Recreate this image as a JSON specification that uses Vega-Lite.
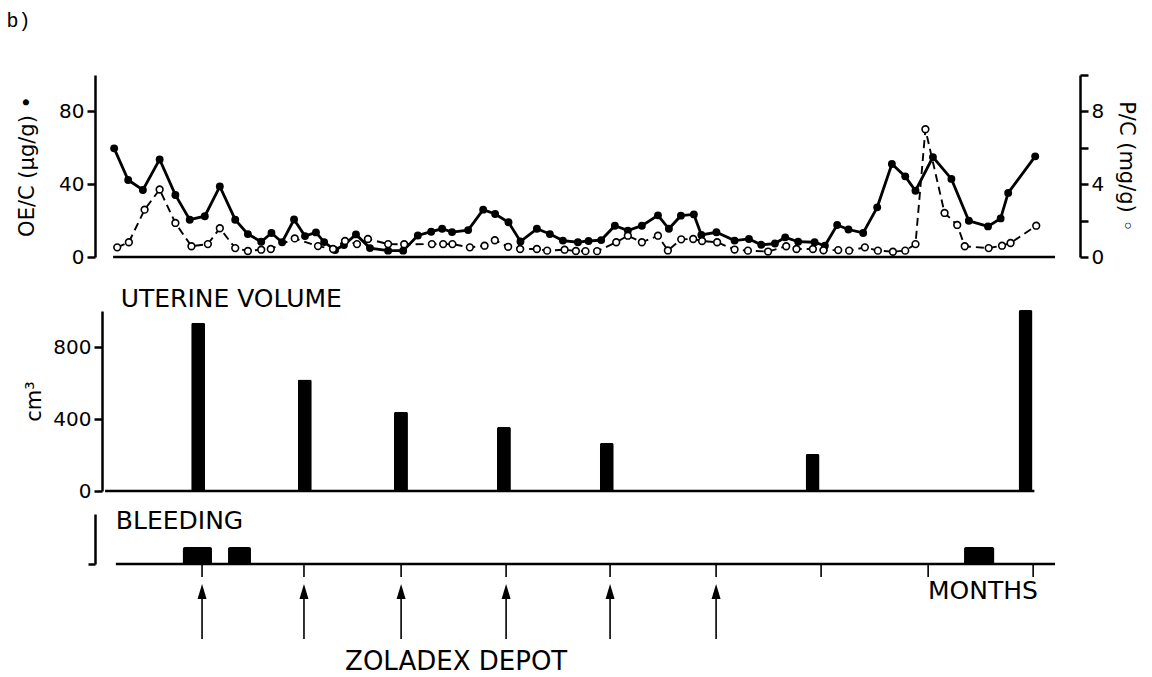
{
  "$schema": "https://vega.github.io/schema/vega-lite/v6.json",
  "background": "white",
  "padding": {"left": 6, "top": 10, "right": 5, "bottom": 2},
  "title": {"text": "b)", "anchor": "start", "frame": "bounds", "font": "Liberation Mono", "fontSize": 20, "fontWeight": "normal", "color": "black", "offset": 43, "dx": -10},
  "datasets": {
    "oe": [
      {"day": 5.6, "oe": 59.7}, {"day": 9.7, "oe": 42.3}, {"day": 14.0, "oe": 36.8}, {"day": 18.9, "oe": 53.6},
      {"day": 23.5, "oe": 34.1}, {"day": 27.7, "oe": 20.5}, {"day": 32.1, "oe": 22.4}, {"day": 36.5, "oe": 38.8},
      {"day": 41.0, "oe": 20.5}, {"day": 44.7, "oe": 12.6}, {"day": 48.6, "oe": 8.4}, {"day": 51.6, "oe": 13.2},
      {"day": 54.7, "oe": 8.1}, {"day": 58.2, "oe": 20.6}, {"day": 61.4, "oe": 11.5}, {"day": 64.6, "oe": 13.5},
      {"day": 67.0, "oe": 8.2}, {"day": 70.2, "oe": 3.8}, {"day": 72.8, "oe": 6.6}, {"day": 76.3, "oe": 12.4},
      {"day": 80.4, "oe": 4.9}, {"day": 85.7, "oe": 3.5}, {"day": 90.1, "oe": 3.5}, {"day": 94.4, "oe": 11.8},
      {"day": 98.3, "oe": 13.9}, {"day": 101.5, "oe": 15.5}, {"day": 104.4, "oe": 13.7}, {"day": 109.1, "oe": 14.8},
      {"day": 113.5, "oe": 26.0}, {"day": 117.0, "oe": 23.6}, {"day": 120.9, "oe": 19.1}, {"day": 124.4, "oe": 8.5},
      {"day": 129.2, "oe": 15.5}, {"day": 133.0, "oe": 12.6}, {"day": 136.8, "oe": 9.0}, {"day": 141.2, "oe": 8.1},
      {"day": 144.3, "oe": 8.8}, {"day": 148.0, "oe": 9.3}, {"day": 152.0, "oe": 17.2}, {"day": 155.8, "oe": 14.5},
      {"day": 159.9, "oe": 17.2}, {"day": 164.6, "oe": 22.9}, {"day": 167.8, "oe": 15.5}, {"day": 171.3, "oe": 22.7},
      {"day": 175.1, "oe": 23.4}, {"day": 177.3, "oe": 12.1}, {"day": 181.7, "oe": 13.6}, {"day": 187.0, "oe": 9.0},
      {"day": 191.2, "oe": 9.9}, {"day": 194.8, "oe": 6.7}, {"day": 198.8, "oe": 7.4}, {"day": 201.8, "oe": 10.8},
      {"day": 205.6, "oe": 8.4}, {"day": 210.4, "oe": 8.1}, {"day": 213.4, "oe": 6.2}, {"day": 217.0, "oe": 17.6},
      {"day": 220.3, "oe": 15.1}, {"day": 224.6, "oe": 13.2}, {"day": 228.7, "oe": 27.3}, {"day": 233.0, "oe": 51.1},
      {"day": 236.9, "oe": 44.3}, {"day": 239.9, "oe": 36.4}, {"day": 245.0, "oe": 54.9}, {"day": 250.4, "oe": 42.9},
      {"day": 255.5, "oe": 19.9}, {"day": 261.1, "oe": 16.8}, {"day": 264.8, "oe": 21.2}, {"day": 267.0, "oe": 35.2},
      {"day": 274.9, "oe": 55.3}
    ],
    "pc": [
      {"day": 6.5, "pc": 0.53}, {"day": 9.9, "pc": 0.81}, {"day": 14.5, "pc": 2.6}, {"day": 18.9, "pc": 3.71},
      {"day": 23.5, "pc": 1.87}, {"day": 28.2, "pc": 0.59}, {"day": 33.0, "pc": 0.71}, {"day": 36.5, "pc": 1.58},
      {"day": 41.0, "pc": 0.49}, {"day": 44.7, "pc": 0.33}, {"day": 48.6, "pc": 0.4}, {"day": 51.4, "pc": 0.44},
      {"day": 58.4, "pc": 1.02}, {"day": 65.2, "pc": 0.6}, {"day": 69.6, "pc": 0.44}, {"day": 73.1, "pc": 0.88},
      {"day": 76.6, "pc": 0.71}, {"day": 79.8, "pc": 0.99}, {"day": 85.7, "pc": 0.71}, {"day": 90.4, "pc": 0.7},
      {"day": 98.5, "pc": 0.71}, {"day": 101.8, "pc": 0.71}, {"day": 104.5, "pc": 0.71}, {"day": 109.6, "pc": 0.53},
      {"day": 113.9, "pc": 0.62}, {"day": 116.9, "pc": 0.92}, {"day": 120.8, "pc": 0.56}, {"day": 124.3, "pc": 0.44},
      {"day": 129.2, "pc": 0.44}, {"day": 132.2, "pc": 0.35}, {"day": 137.3, "pc": 0.4}, {"day": 140.6, "pc": 0.33},
      {"day": 143.4, "pc": 0.32}, {"day": 146.8, "pc": 0.32}, {"day": 152.4, "pc": 0.81}, {"day": 155.8, "pc": 1.17},
      {"day": 159.9, "pc": 0.81}, {"day": 164.6, "pc": 1.17}, {"day": 167.5, "pc": 0.36}, {"day": 171.4, "pc": 0.97},
      {"day": 174.9, "pc": 0.99}, {"day": 177.5, "pc": 0.88}, {"day": 181.9, "pc": 0.81}, {"day": 187.0, "pc": 0.41},
      {"day": 190.9, "pc": 0.35}, {"day": 196.8, "pc": 0.3}, {"day": 202.1, "pc": 0.59}, {"day": 205.1, "pc": 0.44},
      {"day": 209.9, "pc": 0.44}, {"day": 213.0, "pc": 0.37}, {"day": 217.3, "pc": 0.38}, {"day": 220.5, "pc": 0.35},
      {"day": 225.1, "pc": 0.53}, {"day": 228.9, "pc": 0.35}, {"day": 233.3, "pc": 0.29}, {"day": 236.9, "pc": 0.35},
      {"day": 239.9, "pc": 0.71}, {"day": 242.8, "pc": 7.02}, {"day": 248.4, "pc": 2.42}, {"day": 252.1, "pc": 1.76},
      {"day": 254.3, "pc": 0.59}, {"day": 261.3, "pc": 0.49}, {"day": 265.2, "pc": 0.62}, {"day": 267.7, "pc": 0.77},
      {"day": 275.2, "pc": 1.72}
    ],
    "volume": [
      {"day": 29.0, "volume": 935}, {"day": 60.5, "volume": 620}, {"day": 88.9, "volume": 440},
      {"day": 119.3, "volume": 356}, {"day": 149.7, "volume": 267}, {"day": 210.5, "volume": 206},
      {"day": 273.4, "volume": 1005}
    ],
    "bleeding": [
      {"start": 25.7, "end": 34.2}, {"start": 38.9, "end": 45.6}, {"start": 254.1, "end": 262.9}
    ],
    "months": [
      {"day": 31.3, "depot": true}, {"day": 61.1, "depot": true}, {"day": 89.5, "depot": true},
      {"day": 120.2, "depot": true}, {"day": 150.6, "depot": true}, {"day": 181.6, "depot": true},
      {"day": 212.3, "depot": false}, {"day": 243.6, "depot": false}, {"day": 274.3, "depot": false}
    ],
    "one": [{}]
  },
  "spacing": 54,
  "bounds": "flush",
  "vconcat": [
    {
      "width": 985,
      "height": 182,
      "layer": [
        {
          "layer": [
            {
              "data": {"name": "one"},
              "mark": {"type": "rule", "color": "black", "strokeWidth": 2.5},
              "encoding": {
                "x": {"datum": 5.3, "type": "quantitative", "scale": {"domain": [0, 288], "nice": false, "zero": false}, "axis": null},
                "x2": {"datum": 280.7},
                "y": {"datum": 0, "type": "quantitative", "scale": {"domain": [0, 100], "nice": false}, "axis": {"title": "OE/C (µg/g) •"}}
              }
            },
            {
              "data": {"name": "oe"},
              "mark": {"type": "line", "color": "black", "strokeWidth": 2.8},
              "encoding": {
                "x": {"field": "day", "type": "quantitative"},
                "y": {"field": "oe", "type": "quantitative", "axis": {"title": "OE/C (µg/g) •"}}
              }
            },
            {
              "data": {"name": "oe"},
              "mark": {"type": "point", "shape": "circle", "filled": true, "color": "black", "size": 62, "opacity": 1},
              "encoding": {
                "x": {"field": "day", "type": "quantitative"},
                "y": {"field": "oe", "type": "quantitative", "axis": {"title": "OE/C (µg/g) •", "values": [0, 20, 40, 60, 80, 100], "labelExpr": "datum.value % 40 === 0 ? datum.label : ''", "titlePadding": 21}}
              }
            }
          ]
        },
        {
          "data": {"name": "pc"},
          "encoding": {
            "x": {"field": "day", "type": "quantitative"},
            "y": {"field": "pc", "type": "quantitative", "scale": {"domain": [0, 10], "nice": false},
                  "axis": {"orient": "right", "title": "P/C (mg/g) ◦", "values": [0, 2, 4, 6, 8, 10], "labelExpr": "datum.value % 4 === 0 ? datum.label : ''", "titlePadding": 12}}
          },
          "layer": [
            {"mark": {"type": "line", "color": "black", "strokeWidth": 1.9, "strokeDash": [8, 5]}},
            {"mark": {"type": "point", "shape": "circle", "filled": false, "fill": "white", "stroke": "black", "strokeWidth": 1.6, "size": 45, "opacity": 1}}
          ]
        }
      ],
      "resolve": {"scale": {"y": "independent"}}
    },
    {
      "vconcat": [
        {
          "width": 985,
          "height": 180,
          "layer": [
            {
              "data": {"name": "one"},
              "mark": {"type": "rule", "color": "black", "strokeWidth": 2.5},
              "encoding": {
                "x": {"datum": 1.5, "type": "quantitative", "scale": {"domain": [0, 288], "nice": false, "zero": false}, "axis": null},
                "x2": {"datum": 276},
                "y": {"datum": 0, "type": "quantitative", "scale": {"domain": [0, 1000], "nice": false}, "axis": {"title": "cm³", "values": [0, 200, 400, 600, 800, 1000], "labelExpr": "datum.value % 400 === 0 ? datum.label : ''", "titlePadding": 8, "offset": -7}}
              }
            },
            {
              "data": {"name": "volume"},
              "mark": {"type": "bar", "color": "black", "size": 14, "cornerRadiusTopLeft": 2, "cornerRadiusTopRight": 2},
              "encoding": {
                "x": {"field": "day", "type": "quantitative"},
                "y": {"field": "volume", "type": "quantitative", "axis": {"title": "cm³"}}
              }
            },
            {
              "data": {"name": "one"},
              "mark": {"type": "text", "align": "left", "baseline": "middle", "fontSize": 25, "font": "DejaVu Sans", "color": "black"},
              "encoding": {
                "x": {"datum": 6.1, "type": "quantitative"},
                "y": {"datum": 1065, "type": "quantitative"},
                "text": {"value": "UTERINE   VOLUME"}
              }
            }
          ]
        },
        {
          "width": 985,
          "height": 50,
          "layer": [
            {
              "data": {"name": "one"},
              "mark": {"type": "rule", "color": "black", "strokeWidth": 2.5},
              "encoding": {
                "x": {"datum": 6.1, "type": "quantitative", "scale": {"domain": [0, 288], "nice": false, "zero": false}, "axis": null},
                "x2": {"datum": 280.7},
                "y": {"datum": 0, "type": "quantitative", "scale": {"domain": [0, 1], "nice": false}, "axis": {"title": null, "values": [0], "labels": false, "tickSize": 7}}
              }
            },
            {
              "data": {"name": "bleeding"},
              "mark": {"type": "bar", "color": "black", "cornerRadiusTopLeft": 2, "cornerRadiusTopRight": 2},
              "encoding": {
                "x": {"field": "start", "type": "quantitative"},
                "x2": {"field": "end"},
                "y": {"datum": 0.34, "type": "quantitative"},
                "y2": {"datum": 0}
              }
            },
            {
              "data": {"name": "months"},
              "mark": {"type": "rule", "color": "black", "strokeWidth": 1.6},
              "encoding": {
                "x": {"field": "day", "type": "quantitative"},
                "y": {"datum": 0, "type": "quantitative"},
                "y2": {"datum": -0.26}
              }
            },
            {
              "data": {"name": "months"},
              "transform": [{"filter": "datum.depot"}],
              "mark": {"type": "rule", "color": "black", "strokeWidth": 1.6},
              "encoding": {
                "x": {"field": "day", "type": "quantitative"},
                "y": {"datum": -0.6, "type": "quantitative"},
                "y2": {"datum": -1.5}
              }
            },
            {
              "data": {"name": "months"},
              "transform": [{"filter": "datum.depot"}],
              "mark": {"type": "point", "shape": "M0,-1L0.6,1L-0.6,1Z", "filled": true, "color": "black", "size": 225, "opacity": 1},
              "encoding": {
                "x": {"field": "day", "type": "quantitative"},
                "y": {"datum": -0.55, "type": "quantitative"}
              }
            },
            {
              "data": {"name": "one"},
              "mark": {"type": "text", "align": "left", "baseline": "middle", "fontSize": 25, "font": "DejaVu Sans", "color": "black"},
              "encoding": {
                "x": {"datum": 6.1, "type": "quantitative"},
                "y": {"datum": 0.86, "type": "quantitative"},
                "text": {"value": "BLEEDING"}
              }
            },
            {
              "data": {"name": "one"},
              "mark": {"type": "text", "align": "center", "baseline": "middle", "fontSize": 25, "font": "DejaVu Sans", "color": "black"},
              "encoding": {
                "x": {"datum": 259.6, "type": "quantitative"},
                "y": {"datum": -0.54, "type": "quantitative"},
                "text": {"value": "MONTHS"}
              }
            },
            {
              "data": {"name": "one"},
              "mark": {"type": "text", "align": "center", "baseline": "middle", "fontSize": 26, "font": "DejaVu Sans", "color": "black"},
              "encoding": {
                "x": {"datum": 105.6, "type": "quantitative"},
                "y": {"datum": -1.96, "type": "quantitative"},
                "text": {"value": "ZOLADEX DEPOT"}
              }
            }
          ]
        }
      ],
      "spacing": 23,
      "bounds": "flush"
    }
  ],
  "config": {
    "view": {"stroke": null},
    "font": "DejaVu Sans",
    "axis": {
      "grid": false,
      "labelFont": "DejaVu Sans",
      "labelFontSize": 20,
      "labelColor": "black",
      "labelPadding": 3,
      "titleFont": "DejaVu Sans",
      "titleFontSize": 21,
      "titleFontWeight": "normal",
      "titleColor": "black",
      "domainColor": "black",
      "domainWidth": 2.5,
      "tickColor": "black",
      "tickWidth": 2.5,
      "tickSize": 8
    }
  }
}
